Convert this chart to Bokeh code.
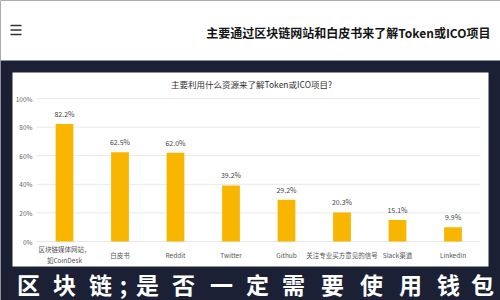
from bokeh.plotting import figure
from bokeh.models import Range1d
from bokeh.core.properties import value
from bokeh.embed import file_html
from bokeh.resources import INLINE

# ---------------- data ----------------
header_title = "主要通过区块链网站和白皮书来了解Token或ICO项目"
chart_title = "主要利用什么资源来了解Token或ICO项目?"
categories = ["区块链媒体网站，\n如CoinDesk", "白皮书", "Reddit", "Twitter", "Github",
              "关注专业买方意见的信号", "Slack渠道", "LinkedIn"]
values = [82.2, 62.5, 62.0, 39.2, 29.2, 20.3, 15.1, 9.9]
value_labels = [f"{v:.1f}%" for v in values]
y_ticks = [0, 20, 40, 60, 80, 100]
y_tick_labels = [f"{t}%" for t in y_ticks]
banner_text = "区块链;是否一定需要使用钱包"

# ---------------- geometry / style ----------------
W, H = 500, 300
PX_Y0 = 241.0        # pixel row of 0 %
PX_PER_PCT = 1.43
CAT0 = 64.0          # pixel column of first category
CAT_STEP = 55.5
NAVY = "#1c2034"
CJK = value("Noto Sans CJK SC")

p = figure(width=W, height=H, x_range=Range1d(0, W), y_range=Range1d(H, 0),
           x_axis_location=None, y_axis_location=None, min_border=0,
           toolbar_location=None, output_backend="svg",
           background_fill_color=NAVY, border_fill_color=NAVY,
           outline_line_color=None)
p.grid.visible = False
p.extra_x_ranges = {"cat": Range1d(-CAT0 / CAT_STEP, (W - CAT0) / CAT_STEP)}
p.extra_y_ranges = {"pct": Range1d(-(H - PX_Y0) / PX_PER_PCT, PX_Y0 / PX_PER_PCT)}

# header band
p.quad(left=0, right=W, top=0, bottom=60, fill_color="white", line_color=None)
p.segment(x0=[10, 10, 10], x1=[21, 21, 21], y0=[25, 29.5, 34], y1=[25, 29.5, 34],
          line_color="#333333", line_width=1.6)
p.text(x=[490], y=[32], text=[header_title], text_align="right", text_baseline="middle",
       text_font=CJK, text_font_style="bold", text_font_size="12px", text_color="#151515")

# white chart panel
p.quad(left=12, right=488, top=72, bottom=266, fill_color="white", line_color=None)
p.text(x=[251], y=[83], text=[chart_title], text_align="center", text_baseline="middle",
       text_font=CJK, text_font_size="8.5px", text_color="#333333")

# gridlines + y tick labels
p.segment(x0=36, x1=480, y0=y_ticks, y1=y_ticks, y_range_name="pct",
          line_color="#e8e8e8", line_width=1)
p.text(x=32, y=y_ticks, text=y_tick_labels, y_range_name="pct",
       text_align="right", text_baseline="middle", text_font=CJK,
       text_font_size="6.5px", text_color="#666666")

# bars
idx = list(range(len(categories)))
p.vbar(x=idx, top=values, bottom=0, width=0.32, x_range_name="cat", y_range_name="pct",
       fill_color="#f8b600", line_color=None)
p.text(x=idx, y=values, text=value_labels, x_range_name="cat", y_range_name="pct",
       text_align="center", text_baseline="bottom", y_offset=-5, text_font=CJK,
       text_font_size="7px", text_color="#444444")

# category labels
p.text(x=idx, y=[254] * len(idx), text=categories, x_range_name="cat",
       text_align="center", text_baseline="middle", text_font=CJK,
       text_font_size="6.5px", text_color="#555555", text_line_height=1.15)

# banner text overlay
banner_x = [28, 64, 100, 123, 147, 183, 221, 257, 293, 332, 371, 410, 448, 482]
p.text(x=banner_x, y=[283] * len(banner_x), text=list(banner_text),
       text_align="center", text_baseline="middle", text_font=CJK,
       text_font_style="bold", text_font_size="23px", text_color="white")

open("out.html", "w").write(file_html(p, INLINE))
